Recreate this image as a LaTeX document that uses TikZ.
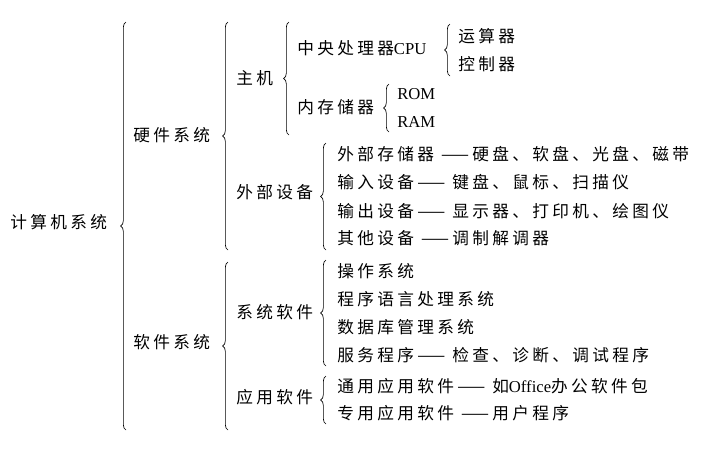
\documentclass[tikz,border=0pt]{standalone}
\usepackage{fontspec}
\setmainfont{Noto Sans CJK SC}[LetterSpace=20]
\newfontfamily\en{Liberation Serif}
\usetikzlibrary{positioning}
\usetikzlibrary{decorations.pathreplacing}
\tikzset{
  item/.style={anchor=west, inner sep=0pt, font=\fontsize{12.5}{13}\selectfont},
  grp/.style={draw, decorate, decoration={brace, amplitude=4pt}, line width=0.5pt},
}
\begin{document}
\begin{tikzpicture}[x=0.75pt, y=-0.75pt]
			\useasboundingbox (0,0) rectangle (715,455);
			\node[item] (root) at (10, 222) {计算机系统};
			\node[item] (hw) at (133, 135) {硬件系统};
			\node[item] (host) at (236, 78) {主机};
			\node[item] (cpu) at (297, 48) {中央处理器{\en CPU}};
			\node[item] (alu) at (458, 36) {运算器};
			\node[item] (ctl) at (458, 64) {控制器};
			\node[item] (mem) at (297, 107) {内存储器};
			\node[item] (rom) at (397, 94) {\en ROM};
			\node[item] (ram) at (397, 122) {\en RAM};
			\node[item] (dev) at (236, 192) {外部设备};
			\node[item] (ext) at (337, 154) {外部存储器 ——硬盘、软盘、光盘、磁带};
			\node[item] (inp) at (337, 182) {输入设备—— 键盘、鼠标、扫描仪};
			\node[item] (out) at (337, 211) {输出设备—— 显示器、打印机、绘图仪};
			\node[item] (oth) at (337, 238) {其他设备 ——调制解调器};
			\node[item] (sw) at (133, 342) {软件系统};
			\node[item] (sys) at (236, 312) {系统软件};
			\node[item] (os) at (337, 271) {操作系统};
			\node[item] (lang) at (337, 299) {程序语言处理系统};
			\node[item] (db) at (337, 327) {数据库管理系统};
			\node[item] (srv) at (337, 355) {服务程序—— 检查、诊断、调试程序};
			\node[item] (app) at (236, 397) {应用软件};
			\node[item] (gen) at (337, 386) {通用应用软件—— 如{\en Office}办公软件包};
			\node[item] (spc) at (337, 413) {专用应用软件 ——用户程序};
			% braces
			\draw[grp] (126, 430) -- (126, 22);
			\draw[grp] (228, 250) -- (228, 22);
			\draw[grp] (289, 135) -- (289, 22);
			\draw[grp] (450, 76) -- (450, 24);
			\draw[grp] (389, 132) -- (389, 84);
			\draw[grp] (326, 250) -- (326, 143);
			\draw[grp] (228, 430) -- (228, 262);
			\draw[grp] (326, 366) -- (326, 260);
			\draw[grp] (326, 424) -- (326, 376);
		\end{tikzpicture}
\end{document}
